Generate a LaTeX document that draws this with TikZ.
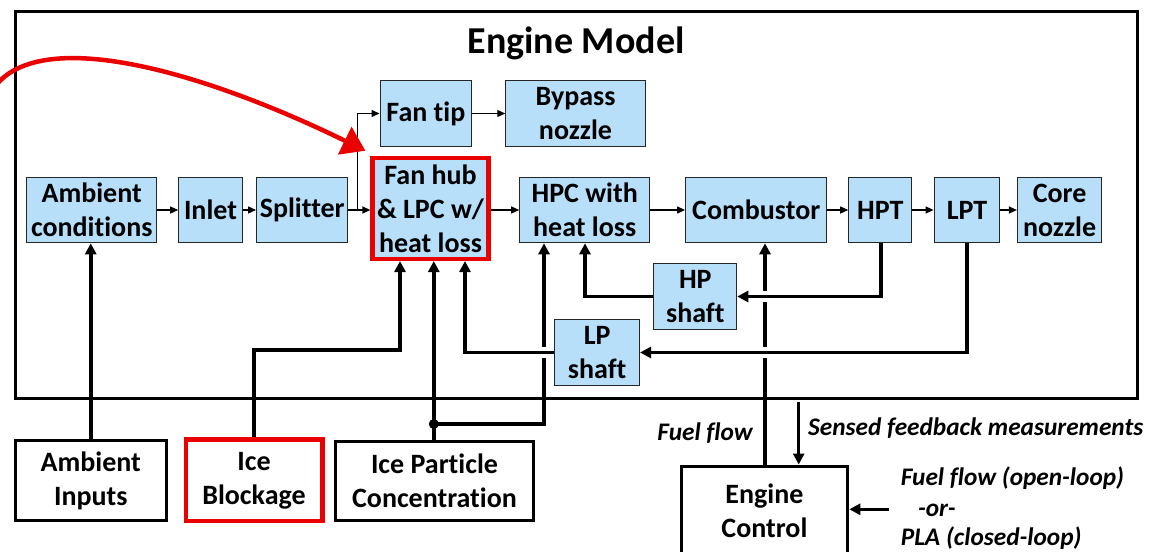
\documentclass[tikz,border=0pt]{standalone}
\usepackage{fontspec}
\setmainfont{Carlito}[Ligatures={NoCommon}]
\usetikzlibrary{arrows.meta,calc}
\definecolor{boxblue}{RGB}{183,223,250}
\definecolor{hired}{RGB}{235,0,0}
\pgfdeclarelayer{bg}
\pgfsetlayers{bg,main}
\begin{document}
\begin{tikzpicture}[x=1pt,y=-1pt,
  blk/.style={draw=black!85, line width=1pt, fill=boxblue, inner sep=0pt, align=center, font=\fontsize{28}{34}\selectfont\bfseries},
  redblk/.style={blk, draw=hired, line width=4.5pt},
  inbox/.style={draw=black, line width=3pt, fill=white, inner sep=0pt, align=center, font=\fontsize{28}{34}\selectfont\bfseries},
  redin/.style={inbox, draw=hired, line width=4.5pt},
  flow/.style={line width=1.3pt, -{Triangle[length=8pt,width=7pt]}},
  link/.style={line width=3.5pt, -{Triangle[length=11pt,width=11pt]}},
  halo/.style={draw=white, line width=11pt},
  lbl/.style={font=\fontsize{25.3}{30}\selectfont\bfseries\itshape, inner sep=0pt},
  dot/.style={circle, fill=black, inner sep=0pt, minimum size=10pt},
]
\useasboundingbox (0,0) rectangle (1150,551);
\clip (0,0) rectangle (1150,551);

% outer engine model box
\draw[line width=3pt] (15,12) rectangle (1137,398);
\node[font=\fontsize{38}{44}\selectfont\bfseries, anchor=base, inner sep=0pt] (title) at (576,53.3) {Engine Model};

% main flow row
\node[blk, minimum width=129.6pt, minimum height=65.6pt] (ambc) at (91.7,210) {Ambient\\conditions};
\node[blk, minimum width=63.6pt, minimum height=65.6pt] (inlet) at (210.5,210) {Inlet};
\node[blk, minimum width=91.4pt, minimum height=65.6pt] (split) at (302.2,210) {Splitter};
\node[redblk, minimum width=115.7pt, minimum height=100.8pt] (fanhub) at (430.5,208.4) {Fan hub\\\& LPC w/\\heat loss};
\node[blk, minimum width=91.8pt, minimum height=65.8pt] (fantip) at (425.9,113.5) {Fan tip};
\node[blk, minimum width=139.5pt, minimum height=65.8pt] (bypass) at (575.5,113.5) {Bypass\\nozzle};
\node[blk, minimum width=130pt, minimum height=65.6pt] (hpc) at (584.7,210) {HPC with\\heat loss};
\node[blk, minimum width=141.3pt, minimum height=65.6pt] (comb) at (756.2,210) {Combustor};
\node[blk, minimum width=63.2pt, minimum height=65.6pt] (hpt) at (880.3,210) {HPT};
\node[blk, minimum width=65.8pt, minimum height=65.6pt] (lpt) at (967,210) {LPT};
\node[blk, minimum width=84.4pt, minimum height=65.6pt] (core) at (1059.6,210) {Core\\nozzle};
\node[blk, minimum width=83pt, minimum height=65.6pt] (hpshaft) at (695.3,296.5) {HP\\shaft};
\node[blk, minimum width=84.7pt, minimum height=65.7pt] (lpshaft) at (597.2,352.5) {LP\\shaft};

% input boxes
\node[inbox, minimum width=150.7pt, minimum height=80.3pt] (ambin) at (90.75,480.7) {Ambient\\Inputs};
\node[redin, minimum width=136.5pt, minimum height=81.5pt] (iceblk) at (254,480.3) {Ice\\Blockage};
\node[inbox, minimum width=198.7pt, minimum height=79.3pt] (icepc) at (434.5,481.2) {Ice Particle\\Concentration};
\node[inbox, minimum width=166.8pt, minimum height=90pt] (engctl) at (764.4,511) {Engine\\Control};
\node[dot] (jn) at (433.8,424) {};

% labels
\node[lbl, anchor=east] (lff) at (753,432.7) {Fuel flow};
\node[lbl, anchor=west] (lsf) at (807.9,428.3) {Sensed feedback measurements};
\node[lbl, anchor=west] (lol) at (900.6,478.3) {Fuel flow (open-loop)};
\node[lbl, anchor=west] (lor) at (917.9,510) {-or-};
\node[lbl, anchor=west] (lcl) at (900.6,538.3) {PLA (closed-loop)};

\coordinate (br) at (357.5,210);
\coordinate (sfb) at (798.7,402);
\coordinate (pla) at (888.5,509.3);

\begin{pgfonlayer}{bg}
% thin flow arrows
\draw[flow] (ambc.east) -- (inlet.west);
\draw[flow] (inlet.east) -- (split.west);
\draw[flow] (split.east) -- (split.east -| fanhub.west);
\draw[flow] (br) |- (fantip.west);
\draw[flow] (fantip.east) -- (bypass.west);
\draw[flow] (fanhub.east |- hpc.west) -- (hpc.west);
\draw[flow] (hpc.east) -- (comb.west);
\draw[flow] (comb.east) -- (hpt.west);
\draw[flow] (hpt.east) -- (lpt.west);
\draw[flow] (lpt.east) -- (core.west);

% lines that are crossed
\draw[link] (jn.center) -| (544,0 |- hpc.south);
\draw[link] (765,0 |- engctl.north) -- (765,0 |- comb.south);

% shaft connections with gaps
\draw[halo] (881,0 |- hpshaft.east) -- (hpshaft.east);
\draw[link] (881,0 |- hpt.south) |- (hpshaft.east);
\draw[link] (hpshaft.west) -| (585,0 |- hpc.south);
\draw[halo] (lpshaft.west) -- (465,0 |- lpshaft.west);
\draw[link] (lpshaft.west) -| (465,0 |- fanhub.south);
\draw[halo] (967,0 |- lpshaft.east) -- (lpshaft.east);
\draw[link] (967,0 |- lpt.south) |- (lpshaft.east);

% inputs
\draw[link] (ambin.north) -- (ambin.north |- ambc.south);
\draw[link] (iceblk.north) |- (400,350) -- (400,0 |- fanhub.south);
\draw[link] (433.8,0 |- icepc.north) -- (433.8,0 |- fanhub.south);

% control
\draw[link] (sfb) -- (sfb |- engctl.north);
\draw[link] (pla) -- (pla -| engctl.east);
\end{pgfonlayer}

% red highlight arrow
\draw[line width=4.5pt, hired, -{Triangle[length=23pt,width=30pt]}] (-3,84) .. controls (45,28) and (200,70) .. ($(fanhub.north west)+(-5,-5)$);
\end{tikzpicture}
\end{document}
